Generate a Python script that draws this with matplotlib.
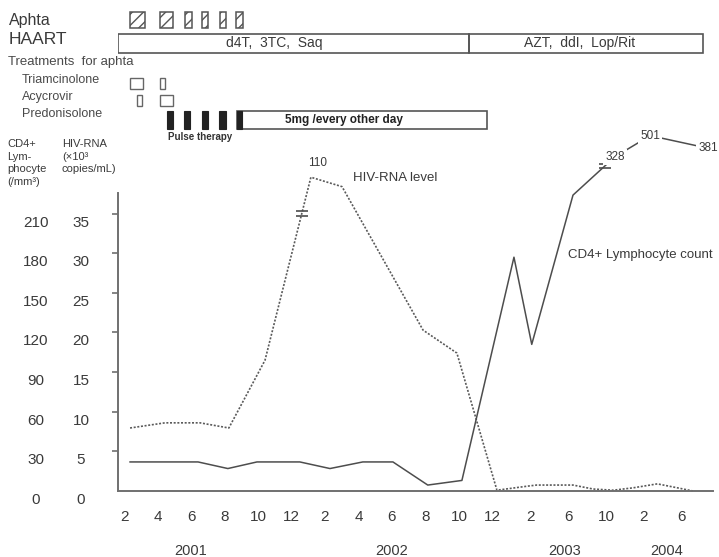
import numpy as np
import matplotlib
matplotlib.use('Agg')
import matplotlib.pyplot as plt
import matplotlib.transforms as mtransforms
from matplotlib.patches import Rectangle

plt.rcParams['font.family'] = ['Liberation Sans', 'DejaVu Sans']
plt.rcParams['hatch.color'] = '#555555'
plt.rcParams['hatch.linewidth'] = 1.0

# x is counted in tick slots: 0 = Feb 2001 ... 11 = Dec 2002, 12 = Feb 2003 ... 16 = Jun 2004
x_labels = ['2', '4', '6', '8', '10', '12', '2', '4', '6', '8', '10', '12', '2', '6', '10', '2', '6']
years = ['2001', '2002', '2003', '2004']
year_x = [2.0, 8.0, 12.9, 15.6]

# HIV-RNA (x10^3 copies/mL) - dotted line
hiv_x = [0.18, 1.22, 2.27, 3.13, 4.21, 5.58, 6.51, 8.93, 9.94, 11.12, 11.91, 12.17,
         13.13, 13.66, 14.19, 14.72, 15.36, 15.89, 16.3]
hiv = [7.95, 8.6, 8.6, 7.95, 16.5, 110, 38.4, 20.3, 17.4, 0.1, 0.6, 0.75,
       0.75, 0.25, 0.1, 0.4, 0.9, 0.4, 0.0]

# CD4+ lymphocytes (/mm3) - solid line
cd4_x = [0.18, 2.21, 3.10, 3.97, 5.25, 6.15, 7.13, 8.03, 9.07, 10.09, 11.57, 12.04,
         13.13, 14.24, 15.17, 16.70]
cd4 = [22, 22, 17, 22, 22, 17, 22, 22, 4.5, 8, 177, 111, 224, 328, 501, 381]

hiv_ticks = [0, 5, 10, 15, 20, 25, 30, 35]
cd4_per_hiv = 6  # 30 cells/mm3 on the same level as 5 x10^3 copies

# timeline rows above the chart (tick-slot units)
aphta = [(0.18, 0.63), (1.07, 1.46), (1.82, 2.03), (2.33, 2.51), (2.87, 3.04), (3.34, 3.55)]
haart = [(-0.18, 10.30), (10.30, 16.57)]
haart_drugs = ['d4T,  3TC,  Saq', 'AZT,  ddI,  Lop/Rit']
haart_text_x = [4.5, 13.3]
triam = [(0.18, 0.57), (1.07, 1.22)]
acyc = [(0.39, 0.54), (1.07, 1.46)]
pulses = [(1.28, 1.46), (1.79, 1.97), (2.33, 2.51), (2.84, 3.04), (3.37, 3.52)]
maintenance = (3.37, 10.84)

TXT = '#3a3a3a'
LINE = '#4d4d4d'
W, H = 719, 557


def squash(v, brk, k):
    # values above the break are drawn compressed just over the top of the axis
    v = np.asarray(v, float)
    return np.where(v > brk, brk + k * np.log1p((v - brk) / 5), v)


STRETCH = 1.13  # 2003-2004 ticks sit a bit further apart


def fwd(x):
    x = np.asarray(x, float)
    return np.where(x > 11, 11 + (x - 11) * STRETCH, x)


def inv(x):
    x = np.asarray(x, float)
    return np.where(x > 11, 11 + (x - 11) / STRETCH, x)


fig = plt.figure(figsize=(W / 100, H / 100), dpi=100)
ax = fig.add_axes([118 / W, 66 / H, 595 / W, 298 / H])
hd = fig.add_axes([118 / W, (H - 140) / H, 595 / W, 140 / H], sharex=ax)
ax.set_xscale('function', functions=(fwd, inv))
ax.set_xlim(-0.18, 16.83)
ax.set_ylim(0, 37.6)

hiv_y = squash(hiv, 38.5, 0.40)
cd4_y = squash(np.array(cd4) / cd4_per_hiv, 37.4, 3.2)

ax.plot(hiv_x, hiv_y, color='#5a5a5a', lw=1.2, ls=(0, (1.2, 1.0)), clip_on=False)
ax.plot(cd4_x, cd4_y, color=LINE, lw=1.1, clip_on=False)


def break_mark(xs, ys, i, f):
    bx = xs[i] + f * (xs[i + 1] - xs[i])
    by = ys[i] + f * (ys[i + 1] - ys[i])
    ax.plot([bx, bx], [by + 0.3, by - 0.3], ls='none', marker='_', ms=9, mew=1.2,
            color=LINE, clip_on=False)


break_mark(hiv_x, hiv_y, 4, 0.8)
break_mark(cd4_x, cd4_y, 12, 0.76)

ax.annotate('110', (hiv_x[5], hiv_y[5]), xytext=(7, 14), textcoords='offset pixels',
            ha='center', va='center', fontsize=8.5, color=TXT, annotation_clip=False)
for i in range(13, len(cd4)):
    ax.text(cd4_x[i], cd4_y[i], str(cd4[i]), ha='center', va='center', fontsize=8.5,
            color=TXT, zorder=5, clip_on=False,
            bbox=dict(fc='white', ec='none', pad=1.5))

ax.text(6.85, 39.5, 'HIV-RNA level', fontsize=9.5, color=TXT, va='center', clip_on=False)
ax.text(13.0, 29.8, 'CD4+ Lymphocyte count', fontsize=9.5, color=TXT, va='center', clip_on=False)

# axes
for s in ['top', 'right']:
    ax.spines[s].set_visible(False)
for s in ['left', 'bottom']:
    ax.spines[s].set_color('#707070')
    ax.spines[s].set_linewidth(1.4)
ax.set_xticks(range(len(x_labels)), x_labels)
ax.tick_params(axis='x', length=0, pad=14, labelsize=11, labelcolor=TXT)
ax.set_yticks(hiv_ticks[1:])
ax.tick_params(axis='y', length=4.3, width=1.2, color='#707070', labelleft=False)

lab_tr = mtransforms.blended_transform_factory(fig.transFigure, ax.transData) + \
    mtransforms.Affine2D().translate(0, -9)
for t in hiv_ticks:
    fig.text(81 / W, t, str(t), transform=lab_tr, ha='center', va='center',
             fontsize=11, color=TXT)
    fig.text(36 / W, t, str(t * cd4_per_hiv), transform=lab_tr, ha='center', va='center',
             fontsize=11, color=TXT)

yr_tr = mtransforms.blended_transform_factory(ax.transData, fig.transFigure)
for x, y in zip(year_x, years):
    ax.text(x, 1 - 551 / H, y, transform=yr_tr, ha='center', va='center', fontsize=10.5,
            color=TXT, clip_on=False)


def ftext(px, py, s, **kw):
    kw.setdefault('color', TXT)
    kw.setdefault('va', 'center')
    fig.text(px / W, 1 - py / H, s, **kw)


ftext(7, 139, 'CD4+\nLym-\nphocyte\n(/mm³)', fontsize=8, linespacing=1.32, va='top')
ftext(62, 139, 'HIV-RNA\n(×10³\ncopies/mL)', fontsize=8, linespacing=1.32, va='top')

# timeline header (y in pixel rows from the top)
hd.set_ylim(140, 0)
hd.axis('off')
ftext(9, 21, 'Aphta', fontsize=11.5)
ftext(9, 40, 'HAART', fontsize=12.5)
ftext(8, 62, 'Treatments  for aphta', fontsize=9.5, color='#4a4a4a')
ftext(22, 80, 'Triamcinolone', fontsize=9, color='#4a4a4a')
ftext(22, 97, 'Acycrovir', fontsize=9, color='#4a4a4a')
ftext(22, 114, 'Predonisolone', fontsize=9, color='#4a4a4a')

for a, b in aphta:
    hd.add_patch(Rectangle((a, 12), b - a, 16, fc='white', ec='#555555', lw=1.1, hatch='///'))
for (a, b), name, tx in zip(haart, haart_drugs, haart_text_x):
    hd.add_patch(Rectangle((a, 34), b - a, 19, fc='none', ec='#555555', lw=1.2))
    hd.text(tx, 43.5, name, ha='center', va='center', fontsize=10, color=TXT)
for a, b in triam:
    hd.add_patch(Rectangle((a, 78), b - a, 11, fc='none', ec='#666666', lw=1.0))
for a, b in acyc:
    hd.add_patch(Rectangle((a, 95), b - a, 11, fc='none', ec='#666666', lw=1.0))
a, b = maintenance
hd.add_patch(Rectangle((a, 111), b - a, 18, fc='none', ec='#555555', lw=1.2))
for a, b in pulses:
    hd.add_patch(Rectangle((a, 111), b - a, 18, fc='#222222', ec='#222222', lw=0.8))
hd.text(4.81, 120, '5mg /every other day', ha='left', va='center', fontsize=8.5,
        fontweight='bold', color='#222222')
hd.text(2.27, 137, 'Pulse therapy', ha='center', va='center', fontsize=7,
        fontweight='bold', color='#333333', clip_on=False)

fig.savefig('out.png', dpi=100, facecolor='white')
